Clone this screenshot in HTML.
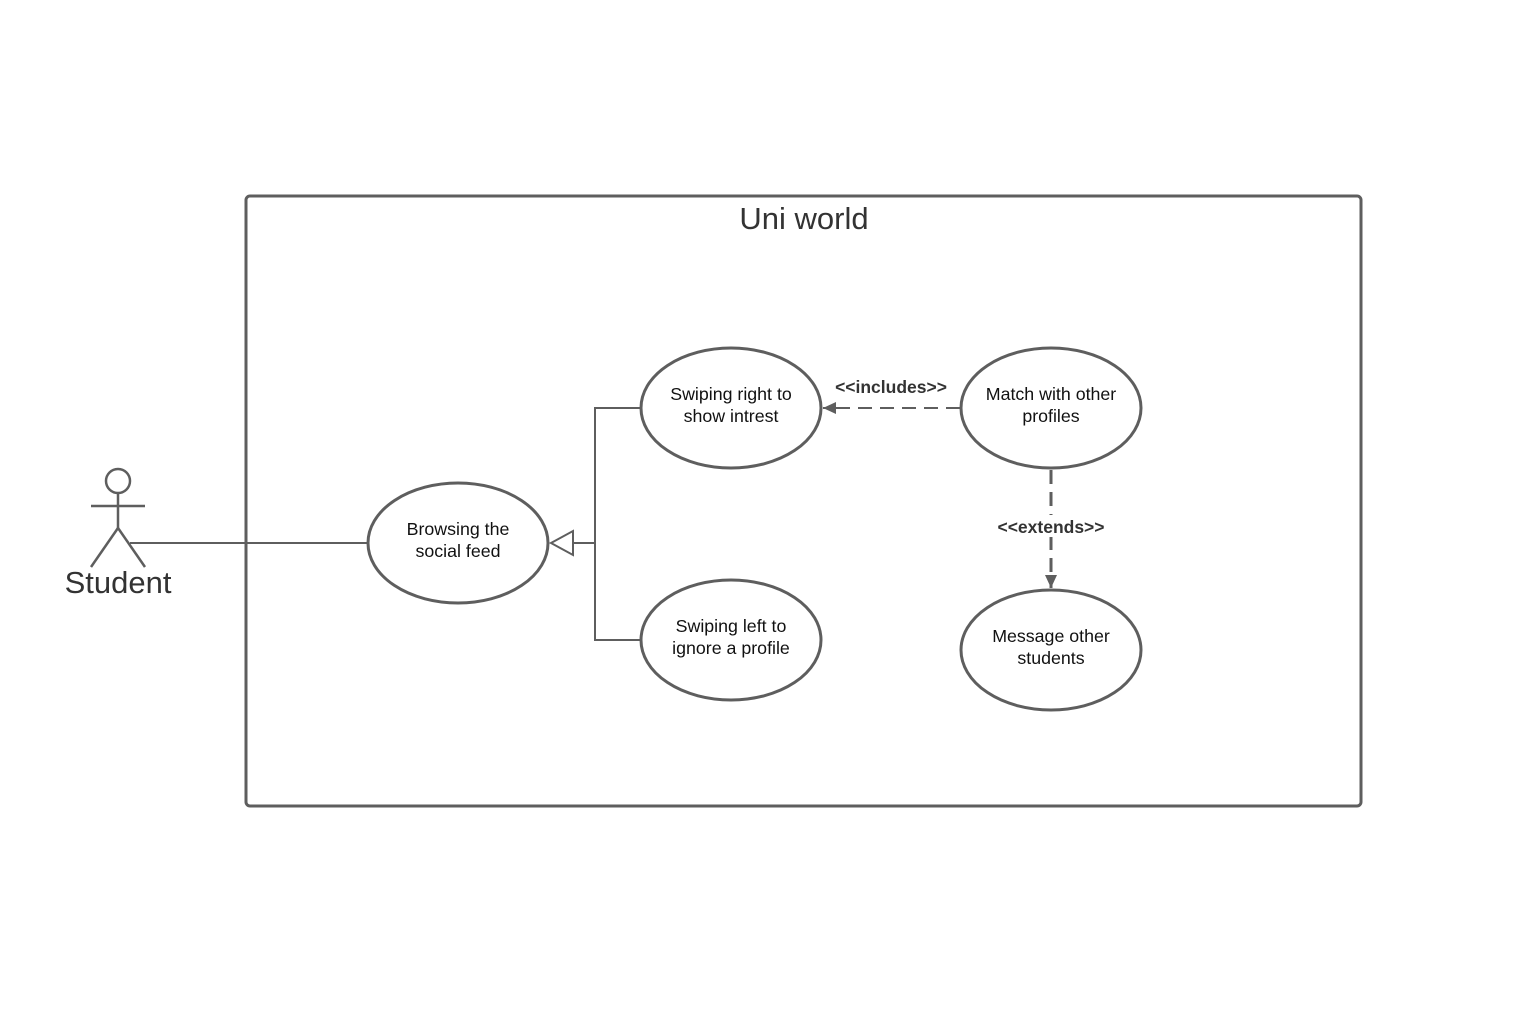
<!DOCTYPE html>
<html><head><meta charset="utf-8"><style>
html,body{margin:0;padding:0;background:#fff;}
svg{display:block;}
text{font-family:"Liberation Sans",Arial,sans-serif;}
</style></head><body>
<svg width="1535" height="1028" viewBox="0 0 1535 1028" xmlns="http://www.w3.org/2000/svg">
<defs>
<marker id="fa" markerWidth="14" markerHeight="14" refX="13" refY="7" orient="auto" markerUnits="userSpaceOnUse">
<path d="M0,1 L13,7 L0,13 Z" fill="#5e5e5e"/>
</marker>
</defs>
<rect x="246" y="196" width="1115" height="610" rx="4" fill="#fff" stroke="#5e5e5e" stroke-width="3"/>
<text x="804" y="229" font-size="31" fill="#333" text-anchor="middle">Uni world</text>

<g stroke="#5e5e5e" stroke-width="2.5" fill="none">
<circle cx="118" cy="481" r="12" fill="#fff"/>
<line x1="118" y1="493" x2="118" y2="528"/>
<line x1="91" y1="506" x2="145" y2="506"/>
<line x1="118" y1="528" x2="91" y2="567"/>
<line x1="118" y1="528" x2="145" y2="567"/>
</g>
<text x="118" y="593" font-size="31" fill="#333" text-anchor="middle">Student</text>
<line x1="130" y1="543" x2="368" y2="543" stroke="#5e5e5e" stroke-width="2"/>

<g stroke="#5e5e5e" stroke-width="2" fill="none">
<polyline points="641,408 595,408 595,640 641,640"/>
<line x1="573" y1="543" x2="595" y2="543"/>
<path d="M551,543 L573,531 L573,555 Z" fill="#fff"/>
</g>

<g stroke="#5e5e5e" stroke-width="3" fill="#fff">
<ellipse cx="458" cy="543" rx="90" ry="60"/>
<ellipse cx="731" cy="408" rx="90" ry="60"/>
<ellipse cx="1051" cy="408" rx="90" ry="60"/>
<ellipse cx="731" cy="640" rx="90" ry="60"/>
<ellipse cx="1051" cy="650" rx="90" ry="60"/>
</g>
<g font-size="17.8" fill="#111" text-anchor="middle">
<text x="458" y="535">Browsing the</text><text x="458" y="557">social feed</text>
<text x="731" y="400">Swiping right to</text><text x="731" y="422">show intrest</text>
<text x="1051" y="400">Match with other</text><text x="1051" y="422">profiles</text>
<text x="731" y="632">Swiping left to</text><text x="731" y="654">ignore a profile</text>
<text x="1051" y="642">Message other</text><text x="1051" y="664">students</text>
</g>

<line x1="960" y1="408" x2="823" y2="408" stroke="#5e5e5e" stroke-width="2" stroke-dasharray="14,8" marker-end="url(#fa)"/>
<text x="891" y="393" font-size="17.5" font-weight="bold" fill="#333" text-anchor="middle">&lt;&lt;includes&gt;&gt;</text>

<line x1="1051" y1="470" x2="1051" y2="588" stroke="#5e5e5e" stroke-width="3" stroke-dasharray="14,8" marker-end="url(#fa)"/>
<rect x="992" y="515" width="118" height="22" fill="#fff"/>
<text x="1051" y="533" font-size="17.5" font-weight="bold" fill="#333" text-anchor="middle">&lt;&lt;extends&gt;&gt;</text>
</svg>
</body></html>
